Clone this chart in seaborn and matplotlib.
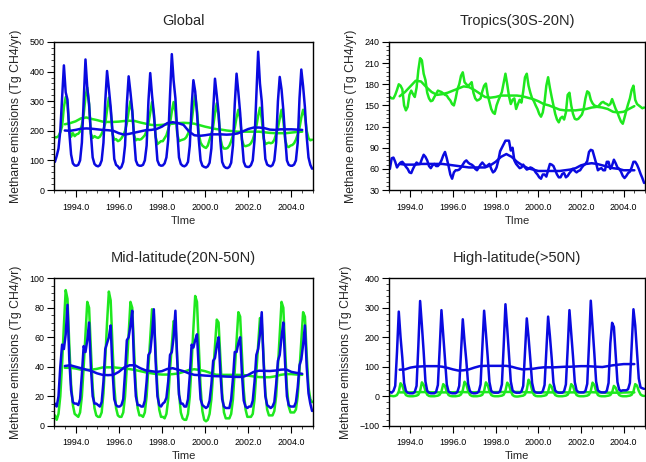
import numpy as np
import pandas as pd
import matplotlib
matplotlib.use("Agg")
import matplotlib.pyplot as plt
from matplotlib.ticker import MultipleLocator, FormatStrFormatter
import seaborn as sns

# ---------------- data (monthly, Jan 1993 - Dec 2004) ----------------
global_blue = [
    95, 115, 140, 200, 310, 421, 330, 305, 195, 120, 90, 83,
    82, 85, 100, 160, 300, 441, 345, 290, 190, 110, 88, 82,
    80, 84, 100, 160, 300, 402, 343, 280, 200, 105, 85, 80,
    72, 78, 95, 150, 290, 384, 330, 270, 180, 100, 85, 82,
    82, 85, 100, 150, 300, 395, 320, 260, 180, 100, 85, 82,
    83, 90, 110, 170, 320, 459, 370, 310, 200, 110, 88, 82,
    80, 84, 95, 150, 280, 371, 333, 260, 170, 100, 82, 78,
    76, 80, 92, 140, 270, 376, 320, 260, 165, 95, 80, 75,
    74, 78, 92, 150, 290, 393, 330, 260, 170, 95, 80, 78,
    78, 84, 100, 170, 320, 467, 360, 300, 190, 105, 86, 82,
    80, 84, 100, 160, 300, 382, 340, 270, 180, 100, 85, 82,
    82, 86, 100, 160, 310, 407, 350, 280, 180, 110, 85, 72]
global_green = [
    178, 178, 182, 195, 215, 280, 314, 290, 210, 180, 192, 182,
    188, 190, 198, 220, 255, 315, 346, 290, 190, 176, 182, 178,
    176, 180, 190, 205, 225, 270, 312, 270, 190, 170, 172, 165,
    168, 175, 185, 200, 225, 265, 300, 265, 185, 168, 172, 170,
    172, 178, 185, 200, 225, 260, 297, 255, 180, 155, 160, 165,
    165, 175, 185, 205, 225, 265, 297, 265, 190, 165, 168, 170,
    172, 178, 190, 205, 230, 280, 320, 270, 190, 160, 150, 145,
    142, 150, 170, 190, 215, 260, 293, 250, 175, 148, 140, 140,
    142, 150, 165, 185, 210, 245, 271, 240, 170, 150, 148, 150,
    152, 158, 170, 190, 215, 250, 278, 240, 175, 155, 158, 160,
    158, 160, 170, 190, 210, 240, 271, 235, 170, 148, 145, 150,
    152, 158, 170, 188, 210, 245, 271, 250, 200, 175, 168, 170]

tropics_blue = [
    60, 75, 76, 70, 62, 66, 69, 70, 67, 63, 60, 55,
    54, 60, 65, 69, 67, 67, 74, 80, 77, 72, 64, 61,
    65, 67, 64, 64, 67, 72, 79, 84, 75, 64, 52, 46,
    55, 58, 58, 59, 62, 66, 70, 72, 69, 67, 66, 64,
    60, 58, 62, 66, 69, 66, 63, 65, 67, 60, 55, 57,
    62, 72, 85, 90, 95, 100, 100, 100, 86, 90, 72, 67,
    64, 61, 62, 66, 62, 59, 60, 62, 61, 59, 55, 52,
    48, 46, 52, 52, 49, 58, 67, 66, 64, 58, 52, 48,
    48, 53, 54, 48, 50, 54, 57, 60, 57, 55, 57, 58,
    62, 65, 67, 71, 84, 87, 86, 77, 68, 58, 60, 61,
    58, 58, 70, 70, 60, 65, 73, 68, 62, 60, 56, 50,
    47, 50, 54, 56, 62, 70, 70, 66, 60, 53, 47, 40]
tropics_green = [
    162, 160, 160, 165, 172, 180, 178, 173, 150, 143, 148, 165,
    171, 166, 162, 175, 200, 217, 214, 195, 186, 168, 160, 156,
    157, 162, 166, 171, 170, 169, 167, 165, 164, 160, 157, 152,
    150, 160, 173, 180, 192, 197, 183, 180, 178, 180, 183, 168,
    160, 157, 158, 160, 170, 178, 181, 165, 155, 145, 140, 138,
    150, 157, 163, 169, 182, 195, 180, 163, 152, 158, 160, 145,
    152, 158, 154, 170, 190, 195, 178, 168, 160, 156, 150, 145,
    138, 134, 140, 155, 178, 190, 175, 162, 150, 138, 130, 126,
    132, 134, 130, 140, 165, 168, 150, 138, 131, 130, 131, 134,
    137, 145, 160, 170, 168, 158, 153, 150, 149, 148, 151, 154,
    155, 153, 152, 150, 152, 159, 152, 145, 140, 133, 127, 124,
    133, 143, 152, 160, 172, 178, 158, 152, 150, 148, 146, 147]

midlat_blue = [
    15, 13, 20, 40, 55, 52, 62, 82, 45, 24, 16, 15,
    15, 14, 18, 35, 54, 50, 58, 70, 40, 20, 15, 15,
    14, 13, 16, 30, 52, 56, 60, 68, 38, 18, 14, 13,
    13, 14, 18, 36, 58, 60, 68, 78, 42, 20, 14, 14,
    13, 13, 17, 30, 48, 50, 62, 79, 44, 20, 14, 13,
    15, 16, 19, 30, 48, 50, 60, 78, 45, 21, 15, 15,
    13, 13, 18, 34, 55, 53, 58, 62, 38, 18, 14, 13,
    12, 13, 17, 28, 44, 46, 54, 60, 36, 18, 13, 12,
    12, 12, 18, 32, 50, 50, 56, 60, 35, 17, 13, 12,
    13, 13, 17, 30, 48, 52, 62, 77, 44, 20, 14, 13,
    12, 13, 16, 28, 44, 48, 60, 70, 42, 20, 14, 13,
    13, 13, 16, 26, 41, 45, 55, 68, 40, 22, 15, 10]
midlat_green = [
    7, 4, 8, 20, 42, 68, 92, 86, 55, 28, 14, 8,
    7, 6, 9, 20, 40, 62, 84, 80, 52, 26, 12, 7,
    6, 6, 9, 22, 45, 70, 91, 85, 55, 27, 12, 7,
    6, 6, 9, 20, 40, 62, 84, 80, 52, 26, 12, 7,
    7, 6, 9, 20, 40, 60, 79, 76, 50, 25, 11, 6,
    6, 5, 8, 18, 38, 55, 71, 69, 46, 22, 9, 5,
    4, 4, 8, 20, 42, 66, 88, 84, 54, 26, 10, 4,
    3, 4, 8, 18, 36, 55, 72, 70, 46, 22, 9, 5,
    5, 5, 8, 18, 38, 58, 77, 74, 48, 24, 11, 6,
    6, 6, 8, 18, 36, 55, 73, 70, 47, 23, 11, 7,
    7, 7, 10, 20, 40, 62, 84, 80, 52, 26, 13, 9,
    9, 9, 11, 20, 38, 58, 77, 74, 48, 26, 18, 16]

highlat_blue = [
    14, 12, 18, 35, 150, 287, 200, 130, 45, 18, 12, 10,
    10, 10, 15, 35, 170, 323, 240, 150, 50, 18, 12, 10,
    10, 10, 15, 38, 160, 292, 210, 125, 40, 16, 12, 10,
    10, 10, 15, 35, 150, 261, 185, 120, 42, 18, 12, 10,
    10, 11, 16, 40, 165, 290, 215, 135, 48, 18, 13, 12,
    12, 12, 17, 40, 170, 312, 230, 140, 50, 20, 14, 12,
    12, 12, 16, 35, 150, 264, 200, 125, 45, 18, 13, 12,
    12, 12, 17, 38, 155, 270, 205, 130, 46, 19, 14, 12,
    12, 12, 17, 40, 160, 292, 215, 135, 48, 20, 14, 13,
    13, 13, 18, 42, 175, 324, 235, 145, 50, 20, 15, 13,
    13, 13, 18, 45, 180, 249, 235, 140, 48, 22, 18, 20,
    20, 20, 24, 45, 170, 295, 240, 150, 60, 30, 27, 25]
highlat_green = [
    2, 1, 0, 1, 4, 16, 44, 36, 16, 4, 1, 0,
    0, 0, 1, 2, 5, 18, 47, 38, 18, 5, 1, 0,
    0, 0, 1, 2, 5, 16, 41, 34, 15, 4, 1, 0,
    0, 0, 1, 2, 6, 20, 49, 40, 18, 5, 1, 0,
    0, 0, 1, 2, 5, 18, 47, 38, 17, 4, 1, 0,
    0, 0, 1, 2, 5, 18, 46, 38, 17, 4, 0, -1,
    -1, 0, 1, 2, 6, 22, 56, 44, 20, 5, 1, 0,
    0, 0, 1, 2, 4, 15, 39, 32, 14, 4, 1, 0,
    0, 0, 1, 2, 5, 16, 41, 34, 15, 4, 1, 0,
    0, 0, 1, 2, 5, 18, 46, 38, 17, 4, 1, 0,
    0, 0, 1, 2, 4, 13, 35, 29, 13, 4, 1, 0,
    0, 0, 1, 2, 5, 16, 41, 36, 18, 6, 2, 1]

# ---------------- running means (quarterly, 1993.5 - 2004.5) ----------------
global_blue_mean = [201, 200, 203, 207, 208, 207, 205, 203, 202, 200, 192, 187, 190, 194,
                    198, 202, 203, 206, 214, 226, 229, 226, 220, 198, 185, 183, 185, 188,
                    188, 188, 187, 188, 191, 198, 206, 211, 211, 209, 204, 203, 205, 205,
                    205, 204, 203]
global_green_mean = [222, 226, 232, 242, 245, 240, 236, 231, 230, 230, 231, 233, 234, 233,
                     228, 224, 220, 219, 220, 222, 224, 226, 227, 226, 224, 219, 214, 210,
                     206, 204, 201, 199, 197, 197, 197, 197, 197, 195, 193, 192, 192, 192,
                     194, 196, 197]
tropics_blue_mean = [67, 66, 66, 66, 67, 67, 67, 67, 67, 66, 65, 64, 63, 62, 62, 62, 62, 65,
                     70, 77, 81, 77, 70, 65, 61, 59, 57, 57, 57, 57, 57, 58, 59, 61, 65, 67,
                     68, 67, 65, 63, 61, 60, 58, 58, 58]
tropics_green_mean = [163, 169, 177, 185, 184, 176, 169, 165, 166, 168, 171, 174, 177, 176,
                      172, 167, 162, 161, 162, 164, 164, 164, 164, 163, 161, 159, 156, 152,
                      150, 147, 144, 143, 143, 143, 144, 145, 147, 148, 147, 145, 141, 140,
                      141, 145, 149]
midlat_blue_mean = [40.5, 41, 40, 39, 38, 37, 35.5, 34.5, 34.3, 34.5, 36.5, 39.5, 41, 41,
                    39, 37.5, 37, 36.5, 37, 38.5, 39, 38, 37, 35.5, 34.5, 34.3, 34, 33.8,
                    33.6, 33.5, 33.3, 33.2, 33.1, 33.1, 34.5, 36.5, 37.3, 37.2, 37.1, 37.4,
                    38, 38.2, 36.5, 35.8, 35.2]
midlat_green_mean = [39.3, 39.3, 38.8, 38, 37.8, 38, 38.6, 39.5, 39.6, 39.6, 39.2, 38.8, 38.4,
                     37.8, 37, 36.2, 35.6, 35, 34.7, 34.7, 35, 35.4, 36.5, 37.8, 38.3, 37.8,
                     37, 35.8, 34.6, 34.5, 34.5, 34.5, 34.5, 34.4, 34, 33.4, 33, 32.9, 32.9,
                     33.5, 34.5, 35, 35, 34.7, 34.5]
highlat_blue_mean = [90, 91, 97, 100, 101, 102, 102, 102, 100, 96, 91, 87, 88, 91, 97, 102,
                     103, 103, 103, 103, 103, 100, 95, 91, 92, 93, 96, 98, 98, 98, 99, 100,
                     100, 101, 102, 102, 101, 100, 99, 102, 105, 107, 109, 109, 109]
highlat_green_mean = [13, 13, 13, 13.5, 14, 14, 13.5, 13, 13, 13, 13.5, 14, 14, 13.5, 13.5, 14,
                      14, 14, 14, 14, 14.5, 14.5, 14.5, 14, 13.5, 13, 13, 13, 13, 13, 13, 13,
                      13, 13, 13, 13.5, 13.5, 13, 12.5, 12, 12, 12, 12.5, 13, 13]

panel_titles = ["Global", "Tropics(30S-20N)", "Mid-latitude(20N-50N)", "High-latitude(>50N)"]
x_labels = ["TIme", "TIme", "Time", "Time"]
y_label = "Methane emissions (Tg CH4/yr)"
x_tick_years = [1994, 1996, 1998, 2000, 2002, 2004]

# ---------------- plotting ----------------
sns.set_style("white")
plt.rcParams["font.family"] = ["Liberation Sans", "DejaVu Sans"]

BLUE = "#0a0ae0"
GREEN = "#1ee81e"

months = 1993 + (np.arange(144) + 0.5) / 12.0
mean_t = 1993.5 + 0.25 * np.arange(45)

panels = [
    dict(blue=global_blue, green=global_green, bm=global_blue_mean, gm=global_green_mean,
         ylim=(0, 500), major=100, minor=20),
    dict(blue=tropics_blue, green=tropics_green, bm=tropics_blue_mean, gm=tropics_green_mean,
         ylim=(30, 240), major=30, minor=6),
    dict(blue=midlat_blue, green=midlat_green, bm=midlat_blue_mean, gm=midlat_green_mean,
         ylim=(0, 100), major=20, minor=5),
    dict(blue=highlat_blue, green=highlat_green, bm=highlat_blue_mean, gm=highlat_green_mean,
         ylim=(-100, 400), major=100, minor=20),
]

W, H = 646, 462
fig = plt.figure(figsize=(W / 100, H / 100), dpi=100)
rects = [
    [54 / W, 1 - 190 / H, 259 / W, 148 / H],
    [389 / W, 1 - 190 / H, 256 / W, 148 / H],
    [54 / W, 1 - 425.7 / H, 259 / W, 147.4 / H],
    [389 / W, 1 - 425.7 / H, 256 / W, 147.4 / H],
]

lw = 1.8
for i, p in enumerate(panels):
    ax = fig.add_axes(rects[i])
    df = pd.DataFrame({"t": months, "green": p["green"], "blue": p["blue"]})
    dm = pd.DataFrame({"t": mean_t, "green": p["gm"], "blue": p["bm"]})
    sns.lineplot(data=df, x="t", y="green", ax=ax, color=GREEN, lw=lw)
    sns.lineplot(data=dm, x="t", y="green", ax=ax, color=GREEN, lw=lw)
    sns.lineplot(data=df, x="t", y="blue", ax=ax, color=BLUE, lw=lw)
    sns.lineplot(data=dm, x="t", y="blue", ax=ax, color=BLUE, lw=lw)

    ax.set_xlim(1993, 2005)
    ax.set_ylim(*p["ylim"])
    ax.set_xticks(x_tick_years)
    ax.xaxis.set_major_formatter(FormatStrFormatter("%.1f"))
    ax.xaxis.set_minor_locator(MultipleLocator(0.5))
    ax.yaxis.set_major_locator(MultipleLocator(p["major"]))
    ax.yaxis.set_minor_locator(MultipleLocator(p["minor"]))
    ax.tick_params(which="major", direction="out", length=5, width=0.8,
                   labelsize=6.4, top=False, right=False, bottom=True, left=True,
                   colors="black")
    ax.tick_params(axis="x", which="major", pad=4)
    ax.tick_params(axis="y", which="major", pad=2)
    ax.tick_params(which="minor", direction="out", length=2.5, width=0.6,
                   top=False, right=False, bottom=True, left=True)
    for s in ax.spines.values():
        s.set_linewidth(1.0)
        s.set_color("black")
    ax.set_title(panel_titles[i], fontsize=10.5, pad=12)
    ax.set_xlabel(x_labels[i], fontsize=8, labelpad=3)
    ax.set_ylabel(y_label, fontsize=8.8, labelpad=5)

fig.savefig("out.png", dpi=100)
